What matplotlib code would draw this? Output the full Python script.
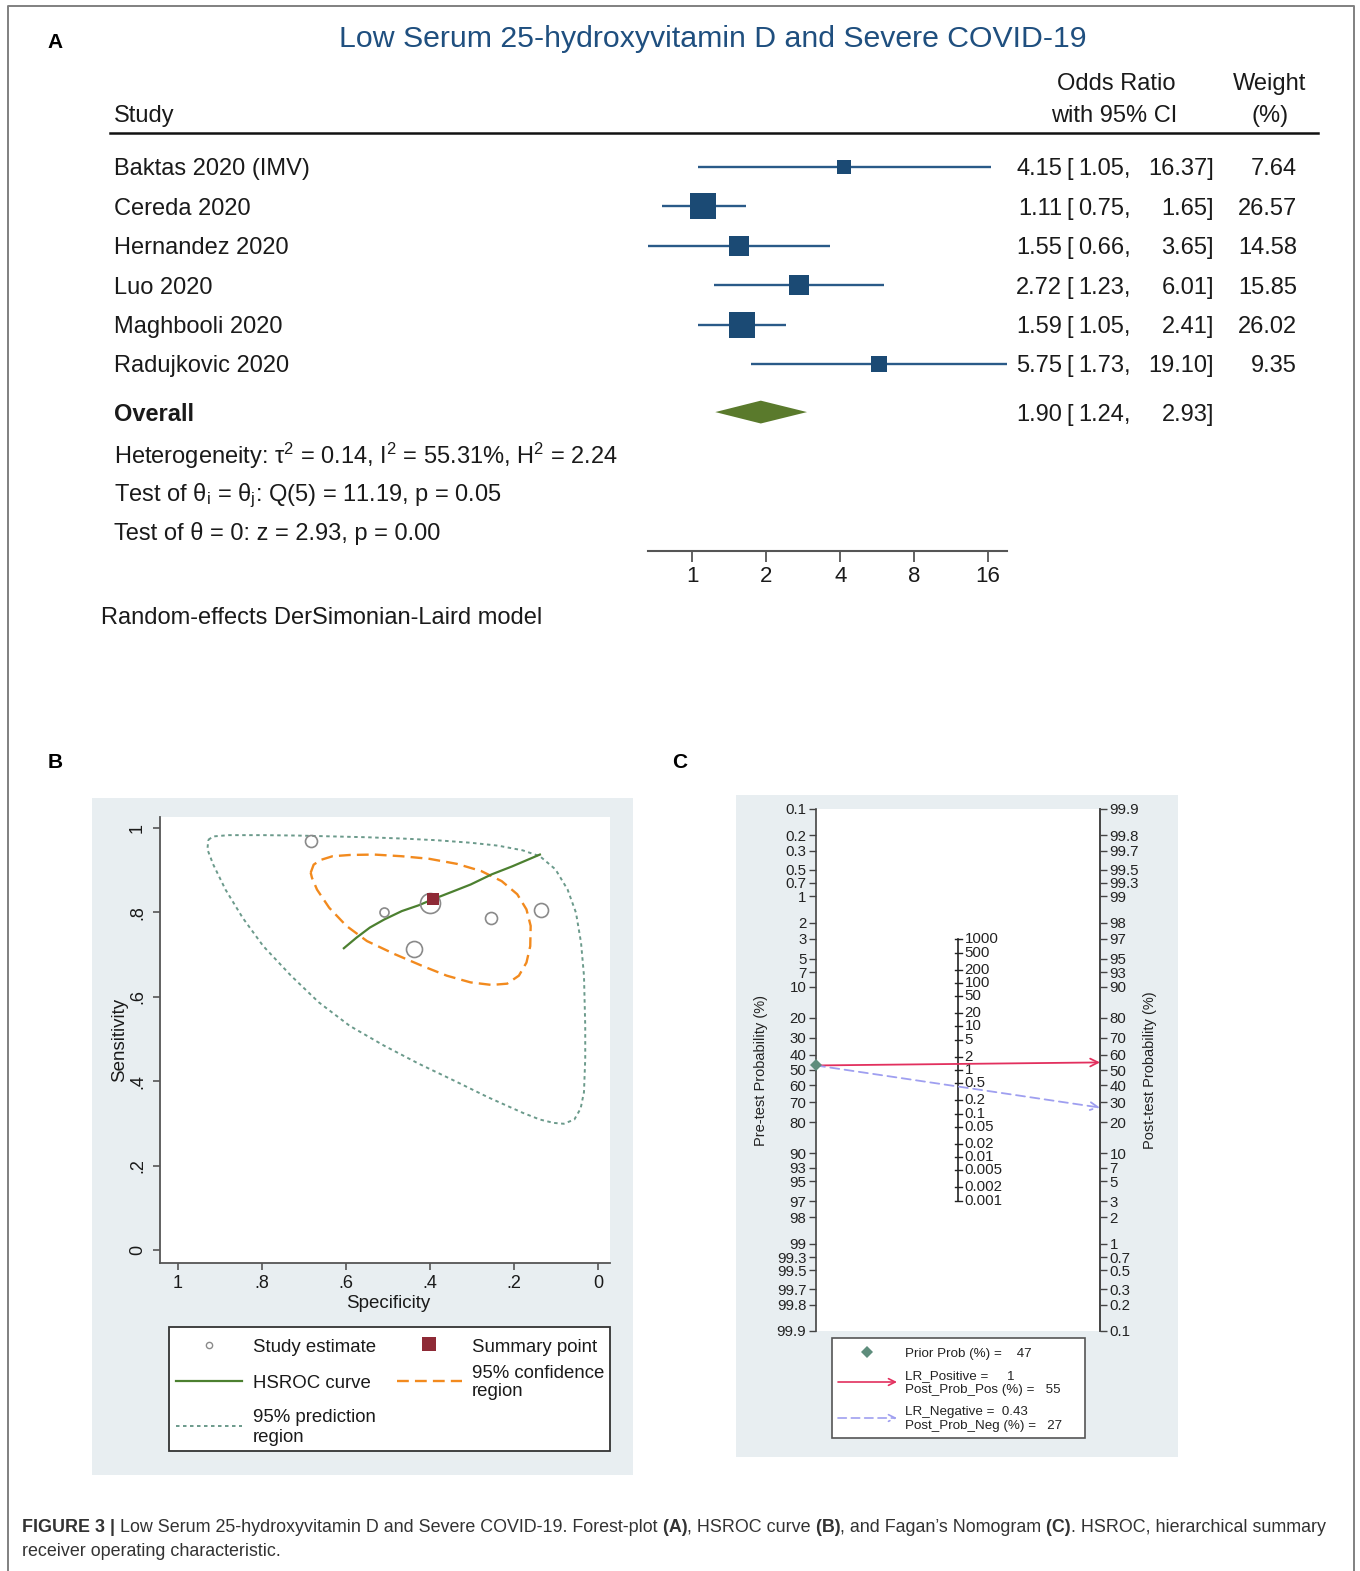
import matplotlib
matplotlib.use("Agg")
import matplotlib.pyplot as plt
import numpy as np
from matplotlib.patches import Rectangle, Polygon
from matplotlib.ticker import NullLocator, NullFormatter
from matplotlib.transforms import blended_transform_factory

plt.rcParams['font.family'] = ['Liberation Sans', 'DejaVu Sans']
plt.rcParams['mathtext.fontset'] = 'custom'
plt.rcParams['mathtext.rm'] = 'Liberation Sans'
plt.rcParams['mathtext.it'] = 'Liberation Sans:italic'
plt.rcParams['mathtext.bf'] = 'Liberation Sans:bold'

W, H, DPI = 1360, 1571, 100

# ---------------- data: panel A (forest plot) ----------------
studies = ["Baktas 2020 (IMV)", "Cereda 2020", "Hernandez 2020", "Luo 2020",
           "Maghbooli 2020", "Radujkovic 2020"]
or_est = [4.15, 1.11, 1.55, 2.72, 1.59, 5.75]
or_low = [1.05, 0.75, 0.66, 1.23, 1.05, 1.73]
or_high = [16.37, 1.65, 3.65, 6.01, 2.41, 19.10]
weights = [7.64, 26.57, 14.58, 15.85, 26.02, 9.35]
overall = [1.90, 1.24, 2.93]   # estimate, low, high
forest_ticks = [1, 2, 4, 8, 16]
het_lines = [r"Heterogeneity: $\mathregular{τ^2}$ = 0.14, $\mathregular{I^2}$ = 55.31%, $\mathregular{H^2}$ = 2.24",
             r"Test of $\mathregular{θ_i}$ = $\mathregular{θ_j}$: Q(5) = 11.19, p = 0.05",
             "Test of θ = 0: z = 2.93, p = 0.00"]

# ---------------- data: panel B (HSROC) ----------------
study_spec = [0.683, 0.510, 0.399, 0.439, 0.255, 0.136]
study_sens = [0.969, 0.801, 0.823, 0.714, 0.786, 0.805]
study_size = [12, 9, 20, 16, 12, 14]
summary_spec, summary_sens = 0.393, 0.832
hsroc_spec = [0.605, 0.575, 0.543, 0.509, 0.467, 0.426, 0.393, 0.344, 0.303, 0.253, 0.204, 0.138]
hsroc_sens = [0.715, 0.740, 0.764, 0.783, 0.803, 0.817, 0.831, 0.850, 0.866, 0.890, 0.909, 0.937]
conf_spec = [0.684, 0.677, 0.661, 0.632, 0.591, 0.533, 0.467, 0.402, 0.336, 0.278, 0.229, 0.192,
             0.170, 0.160, 0.161, 0.170, 0.188, 0.216, 0.253, 0.303, 0.360, 0.418, 0.484, 0.550,
             0.599, 0.640, 0.669, 0.681, 0.684]
conf_sens = [0.894, 0.913, 0.924, 0.933, 0.936, 0.937, 0.933, 0.927, 0.915, 0.898, 0.874, 0.843,
             0.807, 0.768, 0.720, 0.681, 0.650, 0.631, 0.628, 0.634, 0.650, 0.673, 0.701, 0.732,
             0.768, 0.811, 0.854, 0.882, 0.894]
pred_spec = [0.928, 0.916, 0.879, 0.797, 0.714, 0.632, 0.550, 0.467, 0.385, 0.303, 0.237, 0.179,
             0.138, 0.101, 0.072, 0.052, 0.040, 0.033, 0.030, 0.030, 0.033, 0.041, 0.056, 0.081,
             0.105, 0.138, 0.179, 0.262, 0.344, 0.426, 0.509, 0.591, 0.665, 0.731, 0.797, 0.846,
             0.887, 0.916, 0.930, 0.928]
pred_sens = [0.972, 0.980, 0.983, 0.983, 0.982, 0.980, 0.978, 0.975, 0.971, 0.965, 0.958, 0.947,
             0.933, 0.902, 0.854, 0.799, 0.728, 0.650, 0.531, 0.453, 0.374, 0.335, 0.309, 0.299,
             0.301, 0.309, 0.325, 0.362, 0.402, 0.441, 0.484, 0.531, 0.587, 0.650, 0.720, 0.787,
             0.854, 0.913, 0.949, 0.972]
b_ticks = [1, 0.8, 0.6, 0.4, 0.2, 0]
b_ticklabels = ['1', '.8', '.6', '.4', '.2', '0']

# ---------------- data: panel C (Fagan nomogram) ----------------
pre_ticks = [0.1, 0.2, 0.3, 0.5, 0.7, 1, 2, 3, 5, 7, 10, 20, 30, 40, 50, 60, 70, 80, 90,
             93, 95, 97, 98, 99, 99.3, 99.5, 99.7, 99.8, 99.9]
post_ticks = [0.1, 0.2, 0.3, 0.5, 0.7, 1, 2, 3, 5, 7, 10, 20, 30, 40, 50, 60, 70, 80, 90,
              93, 95, 97, 98, 99, 99.3, 99.5, 99.7, 99.8, 99.9]
lr_ticks = [1000, 500, 200, 100, 50, 20, 10, 5, 2, 1, 0.5, 0.2, 0.1, 0.05, 0.02, 0.01,
            0.005, 0.002, 0.001]
prior_prob = 47
lr_pos, post_pos = 1, 55
lr_neg, post_neg = 0.43, 27

# ---------------- figure ----------------
fig = plt.figure(figsize=(W / DPI, H / DPI), dpi=DPI)
canvas = fig.add_axes([0, 0, 1, 1])
canvas.set_xlim(0, W)
canvas.set_ylim(H, 0)
canvas.axis('off')
canvas.set_zorder(0)


def rect(x0, y0, x1, y1):
    return [x0 / W, 1 - y1 / H, (x1 - x0) / W, (y1 - y0) / H]


TXT = '#1a1a1a'
VA = 'center_baseline'
# border
canvas.plot([8, 8, 1354, 1354], [1571, 6, 6, 1571], color='#808080', lw=1.4)

# ---------------- panel A ----------------
canvas.text(55, 40, 'A', fontsize=15, fontweight='bold', ha='center', va=VA, color='black')
canvas.text(713, 36, 'Low Serum 25-hydroxyvitamin D and Severe COVID-19', fontsize=21.8,
            ha='center', va=VA, color='#1f4f7f')
canvas.text(114, 113, 'Study', fontsize=17, ha='left', va=VA, color=TXT)
canvas.text(1116, 81, 'Odds Ratio', fontsize=17, ha='center', va=VA, color=TXT)
canvas.text(1114, 113, 'with 95% CI', fontsize=17, ha='center', va=VA, color=TXT)
canvas.text(1270, 81, 'Weight', fontsize=17, ha='center', va=VA, color=TXT)
canvas.text(1270, 113, '(%)', fontsize=17, ha='center', va=VA, color=TXT)
canvas.plot([110, 1318], [133, 133], color='#111111', lw=1.8)

fax = fig.add_axes(rect(648, 140, 1007, 551))
fax.set_zorder(2)
fax.patch.set_visible(False)
fax.set_xscale('log', base=2)
fax.set_xlim(min(or_low), max(or_high))
fax.set_ylim(9.746, -0.685)
for sp in ['top', 'right', 'left']:
    fax.spines[sp].set_visible(False)
fax.spines['bottom'].set_color('#555555')
fax.spines['bottom'].set_linewidth(1.5)
fax.set_xticks(forest_ticks)
fax.set_xticklabels([str(t) for t in forest_ticks])
fax.xaxis.set_minor_locator(NullLocator())
fax.xaxis.set_minor_formatter(NullFormatter())
fax.tick_params(axis='x', length=8, width=1.3, color='#555555', labelsize=16, pad=3, labelcolor=TXT)
fax.set_yticks([])

CI_C = '#2a5a88'
SQ_C = '#1b4a74'
rows = np.arange(len(studies))
fax.hlines(rows, or_low, or_high, color=CI_C, lw=1.7)
wmax = max(weights)
for i, (e, w) in enumerate(zip(or_est, weights)):
    side_px = 26 * np.sqrt(w / wmax)
    fax.plot(e, i, 's', ms=side_px * 72 / DPI, color=SQ_C, mew=0)
ov_row = 6.22
dh = 0.29
fax.add_patch(Polygon([(overall[1], ov_row), (overall[0], ov_row - dh),
                       (overall[2], ov_row), (overall[0], ov_row + dh)],
                      closed=True, fc='#5a7a2c', ec='none'))

tr = blended_transform_factory(canvas.transData, fax.transData)
fs = 17
for i, name in enumerate(studies):
    canvas.text(114, i, name, transform=tr, fontsize=fs, ha='left', va=VA, color=TXT)
    canvas.text(1062, i, f'{or_est[i]:.2f}', transform=tr, fontsize=fs, ha='right', va=VA, color=TXT)
    canvas.text(1066, i, '[', transform=tr, fontsize=fs, ha='left', va=VA, color=TXT)
    canvas.text(1131, i, f'{or_low[i]:.2f},', transform=tr, fontsize=fs, ha='right', va=VA, color=TXT)
    canvas.text(1214, i, f'{or_high[i]:.2f}]', transform=tr, fontsize=fs, ha='right', va=VA, color=TXT)
    canvas.text(1297, i, f'{weights[i]:.2f}', transform=tr, fontsize=fs, ha='right', va=VA, color=TXT)
canvas.text(114, ov_row, 'Overall', transform=tr, fontsize=fs, fontweight='bold', ha='left', va=VA, color=TXT)
canvas.text(1062, ov_row, f'{overall[0]:.2f}', transform=tr, fontsize=fs, ha='right', va=VA, color=TXT)
canvas.text(1066, ov_row, '[', transform=tr, fontsize=fs, ha='left', va=VA, color=TXT)
canvas.text(1131, ov_row, f'{overall[1]:.2f},', transform=tr, fontsize=fs, ha='right', va=VA, color=TXT)
canvas.text(1214, ov_row, f'{overall[2]:.2f}]', transform=tr, fontsize=fs, ha='right', va=VA, color=TXT)

for k, line in enumerate(het_lines):
    canvas.text(114, 452 + 39.4 * k, line, fontsize=fs, ha='left', va=VA, color=TXT)
canvas.text(101, 615, 'Random-effects DerSimonian-Laird model', fontsize=fs, ha='left', va=VA, color=TXT)

# ---------------- panel B ----------------
BG = '#e8eef1'
canvas.text(55, 760, 'B', fontsize=15, fontweight='bold', ha='center', va=VA, color='black')
canvas.add_patch(Rectangle((92, 798), 633 - 92, 1475 - 798, fc=BG, ec='none'))

bx = fig.add_axes(rect(160, 817, 610, 1263))
bx.set_zorder(2)
bx.set_facecolor('white')
bx.set_xlim(1.043, -0.029)
bx.set_ylim(-0.031, 1.026)
for sp in ['top', 'right']:
    bx.spines[sp].set_visible(False)
for sp in ['left', 'bottom']:
    bx.spines[sp].set_color('#555555')
    bx.spines[sp].set_linewidth(1.3)
bx.set_xticks(b_ticks)
bx.set_xticklabels(b_ticklabels)
bx.set_yticks(b_ticks)
bx.set_yticklabels(b_ticklabels, rotation=90, va='center')
bx.tick_params(length=5, width=1.2, color='#555555', labelsize=13, labelcolor=TXT)
bx.tick_params(axis='y', pad=5)
bx.tick_params(axis='x', pad=4)

PRED_C = '#6b9a8b'
CONF_C = '#f28a1e'
HS_C = '#4c8030'
SUM_C = '#8e2a36'
bx.plot(pred_spec, pred_sens, color=PRED_C, lw=1.4, dashes=(1.8, 1.8))
bx.plot(conf_spec, conf_sens, color=CONF_C, lw=1.7, dashes=(5, 2.6))
bx.plot(hsroc_spec, hsroc_sens, color=HS_C, lw=1.6)
for s, se, sz in zip(study_spec, study_sens, study_size):
    bx.plot(s, se, 'o', ms=sz * 0.72, mfc='none', mec='#8a8a8a', mew=1.2)
bx.plot(summary_spec, summary_sens, 's', ms=8.8, color=SUM_C, mew=0)

canvas.text(120, 1040, 'Sensitivity', fontsize=13.5, rotation=90, ha='center', va='center', color=TXT)
canvas.text(388, 1302, 'Specificity', fontsize=13.5, ha='center', va=VA, color=TXT)

# legend B
canvas.add_patch(Rectangle((169, 1327), 610 - 169, 1451 - 1327, fc='white', ec='#333333', lw=1.3))
lfs = 13.4
canvas.plot(209, 1345, 'o', ms=4.5, mfc='none', mec='#8a8a8a', mew=1.0)
canvas.text(253, 1345, 'Study estimate', fontsize=lfs, ha='left', va=VA, color=TXT)
canvas.plot(429, 1344, 's', ms=9.5, color=SUM_C, mew=0)
canvas.text(472, 1345, 'Summary point', fontsize=lfs, ha='left', va=VA, color=TXT)
canvas.plot([176, 242], [1381, 1381], color=HS_C, lw=1.6)
canvas.text(253, 1381, 'HSROC curve', fontsize=lfs, ha='left', va=VA, color=TXT)
canvas.plot([397, 462], [1381, 1381], color=CONF_C, lw=1.7, dashes=(5, 2.6))
canvas.text(472, 1371, '95% confidence', fontsize=lfs, ha='left', va=VA, color=TXT)
canvas.text(472, 1390, 'region', fontsize=lfs, ha='left', va=VA, color=TXT)
canvas.plot([176, 242], [1426, 1426], color=PRED_C, lw=1.4, dashes=(1.8, 1.8))
canvas.text(253, 1416, '95% prediction', fontsize=lfs, ha='left', va=VA, color=TXT)
canvas.text(253, 1435, 'region', fontsize=lfs, ha='left', va=VA, color=TXT)

# ---------------- panel C ----------------
canvas.text(680, 760, 'C', fontsize=15, fontweight='bold', ha='center', va=VA, color='black')
canvas.add_patch(Rectangle((736, 795), 1178 - 736, 1457 - 795, fc=BG, ec='none'))

cx = fig.add_axes(rect(816, 809, 1100, 1331))
cx.set_zorder(2)
cx.set_facecolor('white')
cx.set_yscale('logit')
cx.set_ylim(0.999, 0.001)
cx.set_xlim(0, 1)
cx.set_xticks([])
cx.set_yticks([v / 100 for v in pre_ticks])
cx.set_yticklabels([f'{v:g}' for v in pre_ticks])
cx.yaxis.set_minor_locator(NullLocator())
cx.yaxis.set_minor_formatter(NullFormatter())
for sp in ['top', 'bottom']:
    cx.spines[sp].set_visible(False)
for sp in ['left', 'right']:
    cx.spines[sp].set_color('#444444')
    cx.spines[sp].set_linewidth(1.2)
cx.tick_params(axis='y', length=5, width=1.0, color='#444444', labelsize=10.8, labelcolor='#222222', pad=2)

cr = cx.twinx()
cr.set_zorder(3)
cr.patch.set_visible(False)
cr.set_yscale('logit')
cr.set_ylim(0.001, 0.999)
cr.set_yticks([v / 100 for v in post_ticks])
cr.set_yticklabels([f'{v:g}' for v in post_ticks])
cr.yaxis.set_minor_locator(NullLocator())
cr.yaxis.set_minor_formatter(NullFormatter())
for sp in ['top', 'bottom', 'left']:
    cr.spines[sp].set_visible(False)
cr.spines['right'].set_color('#444444')
cr.spines['right'].set_linewidth(1.2)
cr.tick_params(axis='y', length=5, width=1.0, color='#444444', labelsize=10.8, labelcolor='#222222', pad=2)

# middle likelihood ratio scale (position where the pre->post line crosses)
lr_pos_y = [1 / (1 + np.sqrt(v)) for v in lr_ticks]
cx.plot([0.5, 0.5], [lr_pos_y[0], lr_pos_y[-1]], color='#222222', lw=1.2)
dx = 3.5 / 284
for p, v in zip(lr_pos_y, lr_ticks):
    cx.plot([0.5 - dx, 0.5 + dx], [p, p], color='#222222', lw=1.0)
    cx.text(0.5 + 6.5 / 284, p, f'{v:g}', fontsize=10.8, ha='left', va='center', color='#222222')
canvas.text(957, 912, 'Likelihood Ratio', fontsize=10.5, ha='center', va=VA, color='#222222')

POS_C = '#e2305e'
NEG_C = '#9f9ff0'
PRI_C = '#5e8d7c'
cx.annotate('', xy=(1, 1 - post_pos / 100), xytext=(0, prior_prob / 100),
            arrowprops=dict(arrowstyle='->', color=POS_C, lw=1.3, mutation_scale=14,
                            shrinkA=0, shrinkB=0), annotation_clip=False)
cx.annotate('', xy=(1, 1 - post_neg / 100), xytext=(0, prior_prob / 100),
            arrowprops=dict(arrowstyle='->', color=NEG_C, lw=1.3, mutation_scale=14,
                            linestyle=(0, (5, 3)), shrinkA=0, shrinkB=0), annotation_clip=False)
cx.plot(0, prior_prob / 100, 'D', ms=6, color=PRI_C, mew=0, clip_on=False, zorder=6)

canvas.text(761, 1070, 'Pre-test Probability (%)', fontsize=10.5, rotation=90, ha='center', va='center', color='#222222')
canvas.text(1150, 1070, 'Post-test Probability (%)', fontsize=10.5, rotation=90, ha='center', va='center', color='#222222')

# legend C
canvas.add_patch(Rectangle((832, 1338), 1085 - 832, 1438 - 1338, fc='white', ec='#555555', lw=1.2))
cfs = 9.6
canvas.plot(867, 1352, 'D', ms=6, color=PRI_C, mew=0)
canvas.text(905, 1352, f'Prior Prob (%) =    {prior_prob}', fontsize=cfs, ha='left', va=VA, color='#222222')
canvas.annotate('', xy=(897, 1382), xytext=(838, 1382),
                arrowprops=dict(arrowstyle='->', color=POS_C, lw=1.2, mutation_scale=12, shrinkA=0, shrinkB=0))
canvas.text(905, 1375, f'LR_Positive =     {lr_pos}', fontsize=cfs, ha='left', va=VA, color='#222222')
canvas.text(905, 1388, f'Post_Prob_Pos (%) =   {post_pos}', fontsize=cfs, ha='left', va=VA, color='#222222')
canvas.annotate('', xy=(897, 1418), xytext=(838, 1418),
                arrowprops=dict(arrowstyle='->', color=NEG_C, lw=1.2, mutation_scale=12,
                                linestyle=(0, (5, 3)), shrinkA=0, shrinkB=0))
canvas.text(905, 1411, f'LR_Negative =  {lr_neg}', fontsize=cfs, ha='left', va=VA, color='#222222')
canvas.text(905, 1425, f'Post_Prob_Neg (%) =   {post_neg}', fontsize=cfs, ha='left', va=VA, color='#222222')

# ---------------- caption ----------------
renderer = fig.canvas.get_renderer()
CAP_C = '#333333'
cap_fs = 12.9


def rich_line(x, y, parts):
    for txt, bold in parts:
        t = canvas.text(x, y, txt, fontsize=cap_fs, fontweight='bold' if bold else 'normal',
                        ha='left', va=VA, color=CAP_C)
        x += t.get_window_extent(renderer=renderer).width


rich_line(22, 1525, [("FIGURE 3 |", True),
                     (" Low Serum 25-hydroxyvitamin D and Severe COVID-19. Forest-plot", False),
                     (" (A)", True), (", HSROC curve", False), (" (B)", True),
                     (", and Fagan’s Nomogram", False), (" (C)", True),
                     (". HSROC, hierarchical summary", False)])
rich_line(22, 1550, [("receiver operating characteristic.", False)])

fig.savefig('out.png', dpi=DPI)
